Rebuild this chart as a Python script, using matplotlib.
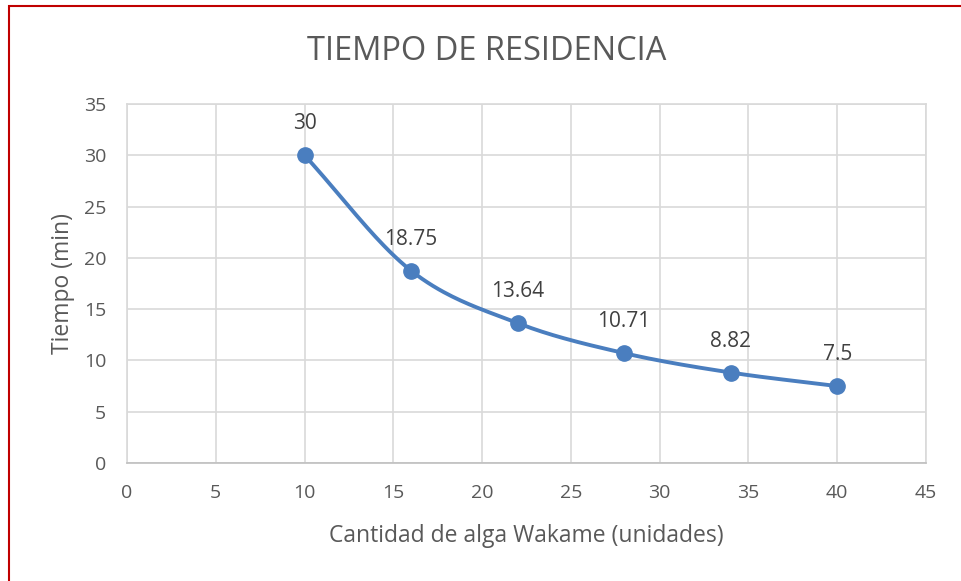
import numpy as np
import matplotlib
matplotlib.use("Agg")
import matplotlib.pyplot as plt
from matplotlib.patches import Rectangle

x_vals = [10, 16, 22, 28, 34, 40]
y_vals = [30, 18.75, 13.64, 10.71, 8.82, 7.5]
labels = ["30", "18.75", "13.64", "10.71", "8.82", "7.5"]
title = "TIEMPO DE RESIDENCIA"
xlabel = "Cantidad de alga Wakame (unidades)"
ylabel = "Tiempo (min)"

plt.rcParams['font.family'] = ['Open Sans', 'DejaVu Sans']

W, H = 961, 581
fig = plt.figure(figsize=(W/100, H/100), dpi=100)
ax = fig.add_axes([127/W, 1-463/H, (926-127)/W, (463-104)/H])

def catmull_rom(xs, ys, n=40):
    P = np.column_stack([xs, ys]).astype(float)
    P = np.vstack([P[0] - (P[1]-P[0]), P, P[-1] + (P[-1]-P[-2])])
    out = []
    for i in range(1, len(P)-2):
        p0, p1, p2, p3 = P[i-1], P[i], P[i+1], P[i+2]
        t = np.linspace(0, 1, n)[:, None]
        seg = 0.5*((2*p1) + (-p0+p2)*t + (2*p0-5*p1+4*p2-p3)*t**2 + (-p0+3*p1-3*p2+p3)*t**3)
        out.append(seg if i == len(P)-3 else seg[:-1])
    return np.vstack(out)

curve = catmull_rom(x_vals, y_vals)
color = "#4A7EBF"
ax.plot(curve[:, 0], curve[:, 1], color=color, lw=2.8, solid_capstyle='round', zorder=3)
ax.plot(x_vals, y_vals, 'o', color=color, ms=11, zorder=4)

for xv, yv, lb in zip(x_vals, y_vals, labels):
    ax.annotate(lb, (xv, yv), xytext=(0, 15), textcoords='offset points',
                ha='center', va='bottom', fontsize=15, color='#404040')

ax.set_xlim(0, 45)
ax.set_ylim(0, 35)
ax.set_xticks(range(0, 46, 5))
ax.set_yticks(range(0, 36, 5))
ax.grid(True, color='#D9D9D9', lw=1.2)
ax.set_axisbelow(True)
for s in ['top', 'right', 'left']:
    ax.spines[s].set_color('#D9D9D9')
    ax.spines[s].set_linewidth(1.2)
ax.spines['bottom'].set_color('#BFBFBF')
ax.spines['bottom'].set_linewidth(1.2)
ax.tick_params(length=0, labelsize=14, labelcolor='#595959')
ax.tick_params(axis='x', pad=15)
ax.tick_params(axis='y', pad=15)

ax.set_xlabel(xlabel, fontsize=16.5, color='#595959', labelpad=16)
ax.set_ylabel(ylabel, fontsize=16.5, color='#595959', labelpad=6)
fig.text(487/W, 1-51/H, title, ha='center', va='center', fontsize=23.5, color='#595959')

fig.patches.append(Rectangle((8.5/W, -0.1), 1.2, (H-6)/H + 0.1, transform=fig.transFigure,
                             fill=False, ec='#C00000', lw=1.5))

fig.savefig("out.png", dpi=100)
